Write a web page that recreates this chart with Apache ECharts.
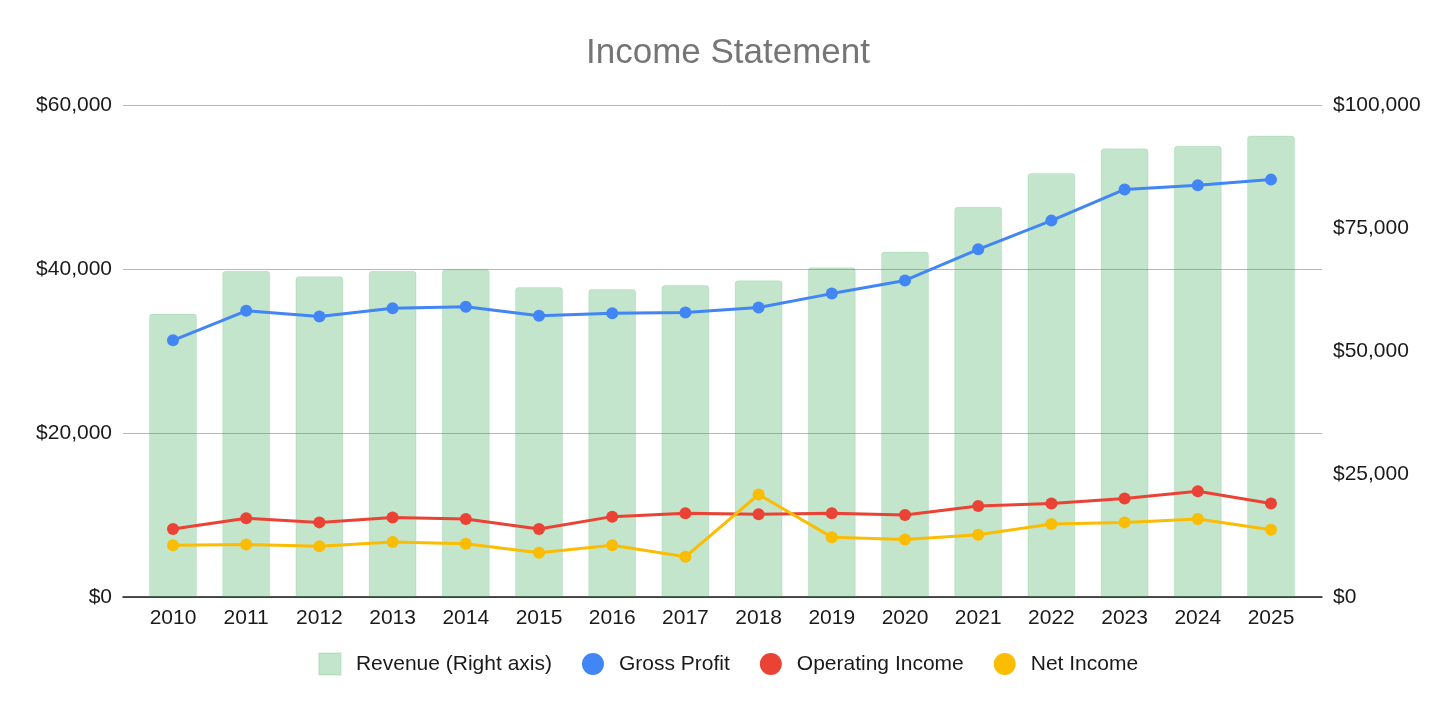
<!DOCTYPE html>
<html>
<head>
<meta charset="utf-8">
<script src="https://cdn.jsdelivr.net/npm/echarts@6/dist/echarts.min.js"></script>
<style>
  html, body { margin: 0; padding: 0; background: #fff; }
  #chart { width: 1456px; height: 710px; }
</style>
</head>
<body>
<div id="chart"></div>
<script>
var years = ['2010','2011','2012','2013','2014','2015','2016','2017','2018','2019','2020','2021','2022','2023','2024','2025'];
// values in dollars
var revenue = [57600, 66300, 65200, 66300, 66600, 63000, 62600, 63400, 64400, 67000, 70200, 79300, 86200, 91200, 91700, 93800];
var grossProfit = [31300, 34900, 34200, 35200, 35400, 34300, 34600, 34700, 35300, 37000, 38600, 42400, 45900, 49700, 50200, 50900];
var operatingIncome = [8300, 9600, 9100, 9700, 9500, 8300, 9800, 10200, 10100, 10200, 10000, 11100, 11400, 12000, 12900, 11400];
var netIncome = [6300, 6400, 6200, 6700, 6500, 5400, 6300, 4900, 12500, 7300, 7000, 7600, 8900, 9100, 9500, 8200];

var leftTicks = { min: 0, max: 60000, interval: 20000 };
var rightTicks = { min: 0, max: 100000, interval: 25000 };

function money(v) {
  return '$' + v.toLocaleString('en-US');
}

var font = '"Liberation Sans", Arial, sans-serif';
var ink = '#1a1a1a';

function lineSeries(name, data, color) {
  return {
    name: name, type: 'line', xAxisIndex: 1, yAxisIndex: 2, data: data,
    symbol: 'circle', symbolSize: 12,
    lineStyle: { color: color, width: 3 },
    itemStyle: { color: color },
    z: 3
  };
}

var chart = echarts.init(document.getElementById('chart'));
chart.setOption({
  animation: false,
  backgroundColor: '#fff',
  textStyle: { fontFamily: font },
  title: {
    text: 'Income Statement', left: 'center', top: 31,
    textStyle: { color: '#757575', fontSize: 35, fontWeight: 'normal', fontFamily: font }
  },
  legend: {
    top: 647, left: 'center', itemGap: 30, itemWidth: 22, itemHeight: 22,
    textStyle: { color: ink, fontSize: 21, fontFamily: font, padding: [0, 0, 0, 10] },
    data: [
      { name: 'Revenue (Right axis)', icon: 'rect' },
      { name: 'Gross Profit', icon: 'circle' },
      { name: 'Operating Income', icon: 'circle' },
      { name: 'Net Income', icon: 'circle' }
    ]
  },
  grid: [
    // frame: gridlines, baseline and tick labels
    { left: 123, right: 134, top: 105, bottom: 113 },
    // plot: categories inset from the gridline ends
    { left: 136.4, right: 148.4, top: 105, bottom: 113 }
  ],
  xAxis: [
    {
      type: 'value', gridIndex: 0, min: 0, max: 1,
      axisLine: { show: true, lineStyle: { color: ink, width: 1.5 } },
      axisTick: { show: false }, axisLabel: { show: false }, splitLine: { show: false }
    },
    {
      type: 'category', gridIndex: 1, data: years,
      axisLine: { show: false }, axisTick: { show: false },
      axisLabel: { color: ink, fontSize: 21, margin: 11 }
    }
  ],
  yAxis: [
    {
      type: 'value', gridIndex: 0, min: leftTicks.min, max: leftTicks.max, interval: leftTicks.interval,
      axisLabel: { color: ink, fontSize: 21, margin: 11, formatter: money },
      splitLine: { lineStyle: { color: '#b7b7b7', width: 1 } },
      axisLine: { show: false }, axisTick: { show: false }
    },
    {
      type: 'value', gridIndex: 0, position: 'right',
      min: rightTicks.min, max: rightTicks.max, interval: rightTicks.interval,
      axisLabel: { color: ink, fontSize: 21, margin: 11, formatter: money },
      splitLine: { show: false }, axisLine: { show: false }, axisTick: { show: false }
    },
    {
      type: 'value', gridIndex: 1, min: leftTicks.min, max: leftTicks.max, interval: leftTicks.interval,
      show: false
    },
    {
      type: 'value', gridIndex: 1, position: 'right',
      min: rightTicks.min, max: rightTicks.max, interval: rightTicks.interval,
      show: false
    }
  ],
  series: [
    {
      name: 'Revenue (Right axis)', type: 'bar', xAxisIndex: 1, yAxisIndex: 3, data: revenue,
      barWidth: '65.5%',
      itemStyle: {
        color: 'rgba(52,168,83,0.3)', borderColor: 'rgba(52,168,83,0.12)', borderWidth: 1,
        borderRadius: [3, 3, 0, 0]
      },
      z: 2
    },
    lineSeries('Gross Profit', grossProfit, '#4285f4'),
    lineSeries('Operating Income', operatingIncome, '#ea4335'),
    lineSeries('Net Income', netIncome, '#fbbc04')
  ]
});
</script>
</body>
</html>
